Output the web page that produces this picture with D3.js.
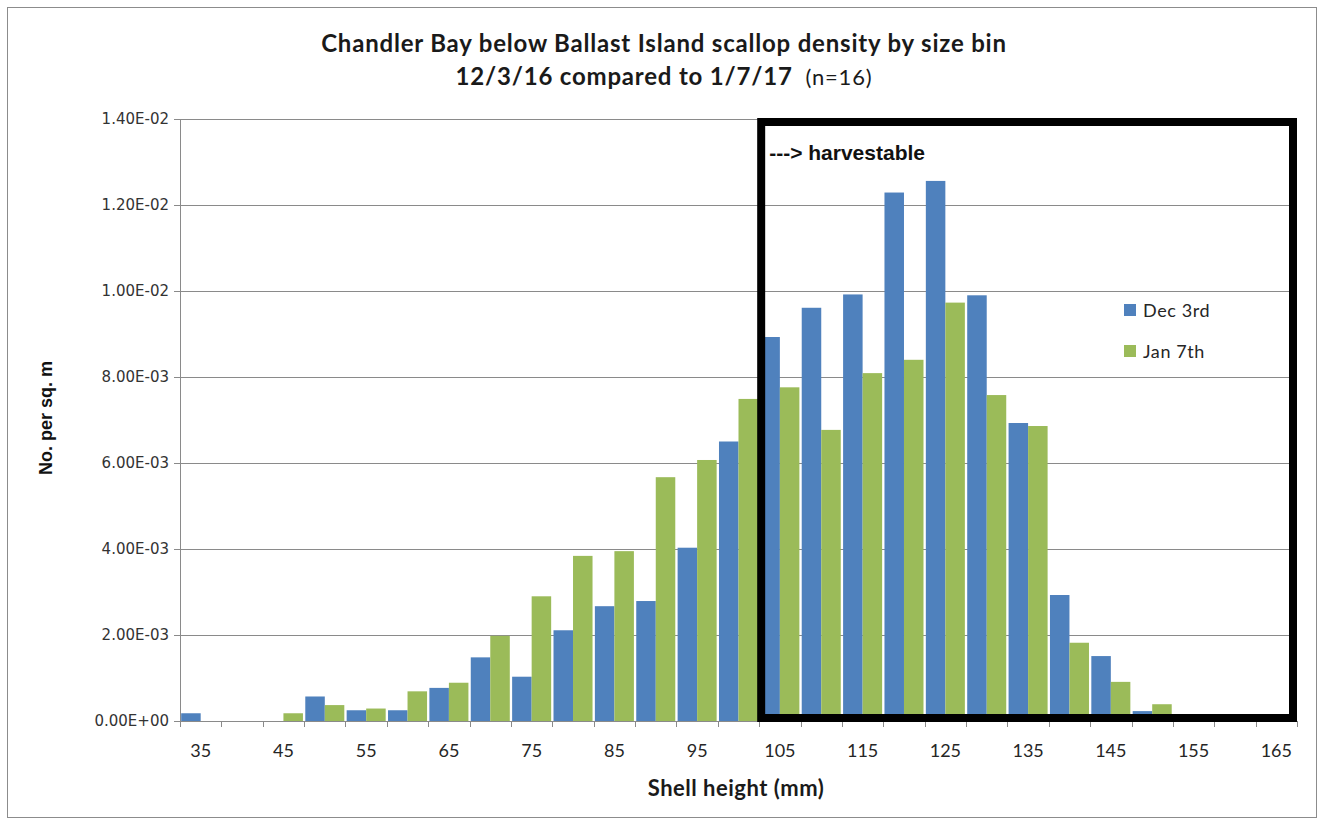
<!DOCTYPE html>
<html>
<head>
<meta charset="utf-8">
<script src="https://cdn.jsdelivr.net/npm/d3@7/dist/d3.min.js"></script>
<style>
  body { margin: 0; background: #fff; }
  .ylab text { font-family: "DejaVu Sans", Verdana, sans-serif; font-size: 15px; fill: #333; }
  .xlab text { font-family: Lato, "Open Sans", sans-serif; font-size: 18px; fill: #262626; }
</style>
</head>
<body>
<div id="chart"></div>
<script>
// shell height bins (mm)
const sizes = ["35","40","45","50","55","60","65","70","75","80","85","90","95","100",
               "105","110","115","120","125","130","135","140","145","150","155","160","165"];
// density, no. per sq. m
const dec3 = [1.8e-4, 0, 0, 5.7e-4, 2.5e-4, 2.5e-4, 7.7e-4, 1.48e-3, 1.03e-3, 2.11e-3, 2.67e-3, 2.79e-3, 4.03e-3, 6.50e-3,
              8.93e-3, 9.61e-3, 9.92e-3, 1.229e-2, 1.256e-2, 9.90e-3, 6.93e-3, 2.93e-3, 1.51e-3, 2.3e-4, 0, 0, 0];
const jan7 = [0, 0, 1.8e-4, 3.7e-4, 2.9e-4, 6.9e-4, 8.9e-4, 1.98e-3, 2.90e-3, 3.84e-3, 3.95e-3, 5.67e-3, 6.07e-3, 7.49e-3,
              7.76e-3, 6.77e-3, 8.09e-3, 8.40e-3, 9.73e-3, 7.58e-3, 6.86e-3, 1.82e-3, 9.1e-4, 3.9e-4, 1.5e-4, 0, 0];
const seriesNames = ["Dec 3rd", "Jan 7th"];
const colors = ["#4F81BD", "#9BBB59"];
const yTicks = [0, 0.002, 0.004, 0.006, 0.008, 0.010, 0.012, 0.014];
const xLabels = ["35","45","55","65","75","85","95","105","115","125","135","145","155","165"];

const W = 1324, H = 825;
const margin = {top: 119, right: 27, bottom: 104, left: 180};
const width = W - margin.left - margin.right,
      height = H - margin.top - margin.bottom;

const svg = d3.select("#chart").append("svg")
    .attr("width", W)
    .attr("height", H);

// chart frame
svg.append("rect")
    .attr("x", 7.5).attr("y", 7.5)
    .attr("width", 1309).attr("height", 810)
    .attr("fill", "#fff")
    .attr("stroke", "#8c8c8c");

const g = svg.append("g")
    .attr("transform", "translate(" + margin.left + "," + margin.top + ")");

const x = d3.scaleBand()
    .domain(sizes)
    .range([0, width]);

const x1 = d3.scaleBand()
    .domain(seriesNames)
    .range([0, x.bandwidth()])
    .paddingOuter(0.06);

const y = d3.scaleLinear()
    .domain([0, 0.014])
    .range([height, 0]);

function sci(v) {
    if (v === 0) return "0.00E+00";
    const e = Math.floor(Math.log10(v) + 1e-9);
    const m = v / Math.pow(10, e);
    const es = (e < 0 ? "-" : "+") + String(Math.abs(e)).padStart(2, "0");
    return m.toFixed(2) + "E" + es;
}

// gridlines
g.append("g")
    .selectAll("line")
    .data(yTicks.slice(1))
    .enter().append("line")
    .attr("x1", 0).attr("x2", width)
    .attr("y1", d => Math.round(y(d)) + 0.5)
    .attr("y2", d => Math.round(y(d)) + 0.5)
    .attr("stroke", "#8a8a8a");

// y axis
const yAxis = g.append("g")
    .attr("class", "ylab")
    .call(d3.axisLeft(y).tickValues(yTicks).tickFormat(sci).tickSize(6).tickPadding(5));
yAxis.selectAll("line, path").attr("stroke", "#8a8a8a");

// bars
const rows = sizes.map((s, i) => ({size: s, vals: [dec3[i], jan7[i]]}));
const groups = g.selectAll(".grp")
    .data(rows)
    .enter().append("g")
    .attr("class", "grp")
    .attr("transform", d => "translate(" + x(d.size) + ",0)");

groups.selectAll("rect")
    .data(d => d.vals.map((v, k) => ({name: seriesNames[k], v: v, k: k})))
    .enter().append("rect")
    .attr("x", d => x1(d.name))
    .attr("width", x1.bandwidth())
    .attr("y", d => y(d.v))
    .attr("height", d => height - y(d.v))
    .attr("fill", d => colors[d.k]);

// x axis: labels every other bin, ticks at bin boundaries
const xAxis = g.append("g")
    .attr("class", "xlab")
    .attr("transform", "translate(0," + height + ")")
    .call(d3.axisBottom(x).tickValues(xLabels).tickSize(0).tickPadding(23));
xAxis.select("path").remove();

const xt = g.append("g").attr("transform", "translate(0," + height + ")");
xt.append("line")
    .attr("x1", 0).attr("x2", width)
    .attr("y1", 0.5).attr("y2", 0.5)
    .attr("stroke", "#8a8a8a");
xt.selectAll(".tk")
    .data(sizes.map(s => x(s)).concat([x.range()[1]]))
    .enter().append("line")
    .attr("x1", d => Math.round(d) + 0.5).attr("x2", d => Math.round(d) + 0.5)
    .attr("y1", 0).attr("y2", 6)
    .attr("stroke", "#8a8a8a");

// harvestable box
const bx = x("105") + 2, by = y(0.014) + 3;
g.append("rect")
    .attr("x", bx).attr("y", by)
    .attr("width", width - 4 - bx)
    .attr("height", y(0) - 3 - by)
    .attr("fill", "none")
    .attr("stroke", "#000")
    .attr("stroke-width", 8);

g.append("text")
    .attr("x", bx + 8).attr("y", by + 38)
    .style("font-family", "Liberation Sans, Arial, sans-serif")
    .style("font-size", "21px")
    .style("font-weight", "bold")
    .attr("fill", "#111")
    .text("---> harvestable");

// legend
const legend = svg.append("g").attr("transform", "translate(1124,304)");
seriesNames.forEach((n, i) => {
    legend.append("rect")
        .attr("x", 0).attr("y", i * 41)
        .attr("width", 12).attr("height", 12)
        .attr("fill", colors[i]);
    legend.append("text")
        .attr("x", 19).attr("y", i * 41 + 13)
        .style("font-family", "Lato, 'Open Sans', sans-serif")
        .style("font-size", "18px")
        .style("letter-spacing", "0.6px")
        .attr("fill", "#262626")
        .text(n);
});

// titles
const title = svg.append("text")
    .attr("text-anchor", "middle")
    .style("font-family", "Lato, 'Open Sans', sans-serif")
    .style("letter-spacing", "0.8px")
    .attr("fill", "#1a1a1a");
title.append("tspan")
    .attr("x", 664).attr("y", 52)
    .style("font-size", "24px").style("font-weight", "bold")
    .text("Chandler Bay below Ballast Island scallop density by size bin");
title.append("tspan")
    .attr("x", 664).attr("y", 85)
    .style("font-size", "24px").style("font-weight", "bold")
    .text("12/3/16 compared to 1/7/17");
title.append("tspan")
    .style("font-size", "22px").style("font-weight", "normal")
    .text("\u00a0\u00a0(n=16)");

svg.append("text")
    .attr("x", 736).attr("y", 796)
    .attr("text-anchor", "middle")
    .style("font-family", "Lato, 'Open Sans', sans-serif")
    .style("font-size", "22px").style("font-weight", "bold")
    .style("letter-spacing", "0.5px")
    .attr("fill", "#1a1a1a")
    .text("Shell height (mm)");

svg.append("text")
    .attr("transform", "translate(52,418) rotate(-90)")
    .attr("text-anchor", "middle")
    .style("font-family", "Liberation Sans, Arial, sans-serif")
    .style("font-size", "18px").style("font-weight", "bold")
    .attr("fill", "#111")
    .text("No. per sq. m");
</script>
</body>
</html>
